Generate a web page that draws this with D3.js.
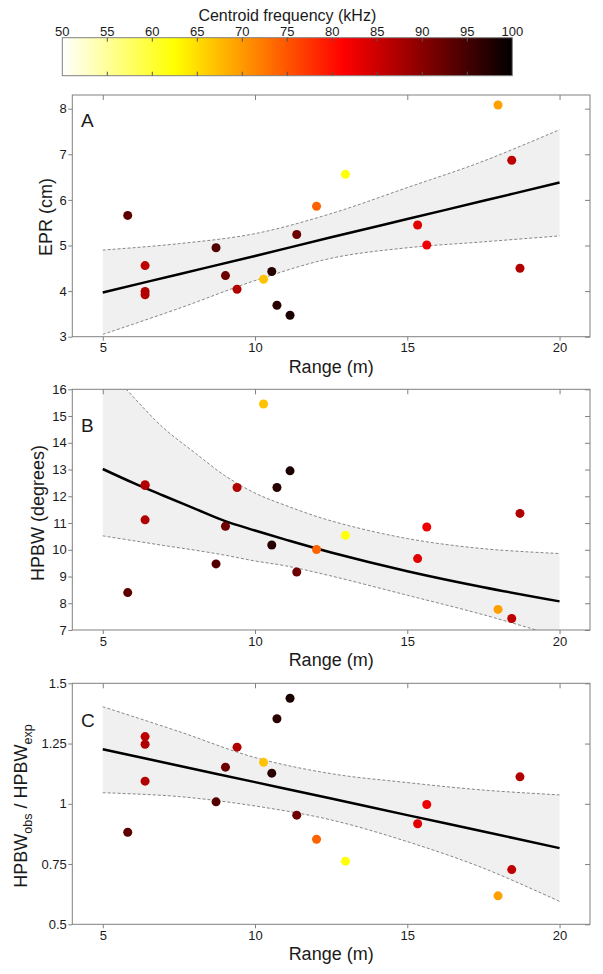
<!DOCTYPE html>
<html>
<head>
<meta charset="utf-8">
<script src="https://cdn.jsdelivr.net/npm/d3@7"></script>
<style>
  body { margin: 0; background: #fff; }
  svg { display: block; }
  text { font-family: "Liberation Sans", Arial, sans-serif; fill: #1a1a1a; }
</style>
</head>
<body>
<svg id="chart" width="603" height="974"></svg>
<script>
// colour bar
const freqTicks = [50, 55, 60, 65, 70, 75, 80, 85, 90, 95, 100];

// one entry per recording
const rangeM = [5.82, 6.39, 6.39, 6.39, 8.72, 9.03, 9.41, 10.28, 10.55, 10.72,
                11.15, 11.37, 12.02, 12.97, 15.34, 15.64, 17.98, 18.43, 18.70];
const freqKHz = [93, 86, 87, 87, 94, 92, 87, 67, 97, 97,
                 98, 92, 74, 62, 83.5, 82.5, 69.5, 86, 87];
const epr = [5.66, 4.56, 3.99, 3.92, 4.95, 4.34, 4.04, 4.26, 4.43, 3.69,
             3.47, 5.24, 5.86, 6.56, 5.45, 5.01, 8.08, 6.87, 4.50];
const hpbw = [8.40, 12.43, 12.40, 11.12, 9.47, 10.88, 12.33, 15.45, 10.18, 12.33,
              12.95, 9.17, 10.01, 10.54, 9.67, 10.85, 7.77, 7.43, 11.36];
const hpbwRatio = [0.882, 1.279, 1.247, 1.094, 1.008, 1.152, 1.235, 1.172, 1.127, 1.353,
                   1.438, 0.953, 0.853, 0.762, 0.917, 0.997, 0.618, 0.727, 1.112];

// fitted curves and confidence bands
const eprBandX = [5, 7.5, 10, 12.5, 15, 17.5, 20];
const eprFit  = [3.97, 4.37, 4.77, 5.18, 5.58, 5.98, 6.38];
const eprHigh = [4.90, 5.04, 5.26, 5.70, 6.27, 6.85, 7.54];
const eprLow  = [3.05, 3.62, 4.23, 4.72, 4.95, 5.08, 5.21];

const hpbwBandX = [5, 6, 7, 8, 9, 10, 11, 12.5, 15, 17.5, 20];
const hpbwFit  = [13.02, 12.50, 12.02, 11.55, 11.08, 10.72, 10.38, 9.90, 9.20, 8.60, 8.07];
const hpbwHigh = [17.0, 15.72, 14.55, 13.65, 12.78, 12.12, 11.66, 11.08, 10.42, 10.04, 9.86];
const hpbwLow  = [10.52, 10.34, 10.16, 9.99, 9.80, 9.58, 9.40, 9.02, 8.30, 7.57, 6.74];

const ratioBandX = [5, 7.5, 10, 12.5, 15, 17.5, 20];
const ratioFit  = [1.226, 1.158, 1.090, 1.022, 0.953, 0.885, 0.816];
const ratioHigh = [1.403, 1.300, 1.192, 1.125, 1.088, 1.057, 1.037];
const ratioLow  = [1.046, 1.030, 0.991, 0.933, 0.843, 0.733, 0.595];

const rangeTicks = [5, 10, 15, 20];
const eprTicks = [3, 4, 5, 6, 7, 8];
const hpbwTicks = [7, 8, 9, 10, 11, 12, 13, 14, 15, 16];
const ratioTicks = [0.5, 0.75, 1, 1.25, 1.5];

const frameColor = "#808080";
const plotLeft = 72.3;
const plotRight = 590;

const svg = d3.select("#chart");

// flipped "hot" colormap
const color = d3.scaleLinear()
    .domain([50, 62.5, 81.25, 100])
    .range(["#ffffff", "#ffff00", "#ff0000", "#000000"]);

drawColorbar();

const x = d3.scaleLinear().domain([4, 21]).range([plotLeft, plotRight]);

const panels = [
    { letter: "A", top: 95, bottom: 336.7, yDomain: [3, 8.3], yTicks: eprTicks, values: epr,
      bandX: eprBandX, fit: eprFit, high: eprHigh, low: eprLow,
      letterY: 126.5, labelX: 52, labelY: 217 },
    { letter: "B", top: 389.3, bottom: 630, yDomain: [7, 16], yTicks: hpbwTicks, values: hpbw,
      bandX: hpbwBandX, fit: hpbwFit, high: hpbwHigh, low: hpbwLow,
      letterY: 431.7, labelX: 43.5, labelY: 513 },
    { letter: "C", top: 683.3, bottom: 924.3, yDomain: [0.5, 1.5], yTicks: ratioTicks, values: hpbwRatio,
      bandX: ratioBandX, fit: ratioFit, high: ratioHigh, low: ratioLow,
      letterY: 727, labelX: 27, labelY: 806 }
];

panels.forEach((p, i) => drawPanel(p, i));

function drawPanel(p, i) {
    const y = d3.scaleLinear().domain(p.yDomain).range([p.bottom, p.top]);
    const g = svg.append("g").attr("id", "panel-" + p.letter);

    g.append("clipPath").attr("id", "clip-" + i)
      .append("rect")
        .attr("x", plotLeft).attr("y", p.top)
        .attr("width", plotRight - plotLeft).attr("height", p.bottom - p.top);

    const plot = g.append("g").attr("clip-path", `url(#clip-${i})`);
    const band = p.bandX.map((v, k) => ({ x: v, fit: p.fit[k], hi: p.high[k], lo: p.low[k] }));

    plot.append("path")
        .datum(band)
        .attr("fill", "#f0f0f0")
        .attr("d", d3.area().curve(d3.curveCatmullRom)
            .x(d => x(d.x)).y0(d => y(d.lo)).y1(d => y(d.hi)));

    ["hi", "lo"].forEach(key => {
        plot.append("path")
            .datum(band)
            .attr("fill", "none")
            .attr("stroke", "#6a6a6a")
            .attr("stroke-width", 0.8)
            .attr("stroke-dasharray", "3,2")
            .attr("d", d3.line().curve(d3.curveCatmullRom).x(d => x(d.x)).y(d => y(d[key])));
    });

    plot.append("path")
        .datum(band)
        .attr("fill", "none")
        .attr("stroke", "#000")
        .attr("stroke-width", 2.5)
        .attr("d", d3.line().curve(d3.curveCatmullRom).x(d => x(d.x)).y(d => y(d.fit)));

    plot.selectAll("circle")
        .data(rangeM.map((r, k) => ({ r: r, v: p.values[k], f: freqKHz[k] })))
        .join("circle")
        .attr("cx", d => x(d.r))
        .attr("cy", d => y(d.v))
        .attr("r", 4.5)
        .attr("fill", d => color(d.f));

    // frame
    g.append("rect")
        .attr("x", plotLeft).attr("y", p.top)
        .attr("width", plotRight - plotLeft).attr("height", p.bottom - p.top)
        .attr("fill", "none").attr("stroke", frameColor).attr("stroke-width", 1);

    const fmt = d => String(d);

    const left = g.append("g")
        .attr("transform", `translate(${plotLeft},0)`)
        .call(d3.axisLeft(y).tickValues(p.yTicks).tickSize(4).tickPadding(1.5).tickFormat(fmt));
    const bottom = g.append("g")
        .attr("transform", `translate(0,${p.bottom})`)
        .call(d3.axisBottom(x).tickValues(rangeTicks).tickSize(4).tickPadding(2.3).tickFormat(fmt));
    const top = g.append("g")
        .attr("transform", `translate(0,${p.top})`)
        .call(d3.axisTop(x).tickValues(rangeTicks).tickSize(-5).tickFormat(""));
    const right = g.append("g")
        .attr("transform", `translate(${plotRight},0)`)
        .call(d3.axisRight(y).tickValues(p.yTicks).tickSize(-5).tickFormat(""));

    [left, bottom, top, right].forEach(a => {
        a.select(".domain").remove();
        a.selectAll(".tick line").attr("stroke", frameColor);
        a.selectAll(".tick text")
            .attr("font-size", 13)
            .attr("fill", "#1a1a1a")
            .attr("font-family", "Liberation Sans, Arial, sans-serif");
    });

    g.append("text")
        .attr("x", 81).attr("y", p.letterY)
        .attr("font-size", 19)
        .text(p.letter);

    g.append("text")
        .attr("x", (plotLeft + plotRight) / 2)
        .attr("y", p.bottom + 36)
        .attr("text-anchor", "middle")
        .attr("font-size", 18)
        .text("Range (m)");

    const yl = g.append("text")
        .attr("transform", `translate(${p.labelX},${p.labelY}) rotate(-90)`)
        .attr("text-anchor", "middle")
        .attr("font-size", 18);
    if (p.letter === "A") {
        yl.text("EPR (cm)");
    } else if (p.letter === "B") {
        yl.text("HPBW (degrees)");
    } else {
        yl.append("tspan").text("HPBW");
        yl.append("tspan").attr("dy", 5).attr("font-size", 12.5).text("obs");
        yl.append("tspan").attr("dy", -5).text(" / HPBW");
        yl.append("tspan").attr("dy", 5).attr("font-size", 12.5).text("exp");
    }
}

function drawColorbar() {
    const cx = d3.scaleLinear().domain([50, 100]).range([62.3, 512.3]);
    const top = 37.7, bottom = 75.7;

    const grad = svg.append("defs").append("linearGradient")
        .attr("id", "hot").attr("x1", "0%").attr("x2", "100%");
    grad.selectAll("stop")
        .data(d3.range(0, 1.0001, 0.025))
        .join("stop")
        .attr("offset", d => d * 100 + "%")
        .attr("stop-color", d => color(50 + d * 50));

    const g = svg.append("g").attr("id", "colorbar");
    g.append("rect")
        .attr("x", cx(50)).attr("y", top)
        .attr("width", cx(100) - cx(50)).attr("height", bottom - top)
        .attr("fill", "url(#hot)")
        .attr("stroke", frameColor).attr("stroke-width", 1);

    const inner = freqTicks.slice(1, -1);
    g.selectAll("line.t")
        .data(inner).join("line").attr("class", "t")
        .attr("x1", d => cx(d)).attr("x2", d => cx(d))
        .attr("y1", top).attr("y2", top + 4)
        .attr("stroke", "#555");
    g.selectAll("line.b")
        .data(inner).join("line").attr("class", "b")
        .attr("x1", d => cx(d)).attr("x2", d => cx(d))
        .attr("y1", bottom).attr("y2", bottom - 4)
        .attr("stroke", "#555");

    g.selectAll("text.lab")
        .data(freqTicks).join("text").attr("class", "lab")
        .attr("x", d => cx(d)).attr("y", 36)
        .attr("text-anchor", "middle")
        .attr("font-size", 13)
        .text(d => d);

    g.append("text")
        .attr("x", cx(75)).attr("y", 20.7)
        .attr("text-anchor", "middle")
        .attr("font-size", 16)
        .text("Centroid frequency (kHz)");
}
</script>
</body>
</html>
